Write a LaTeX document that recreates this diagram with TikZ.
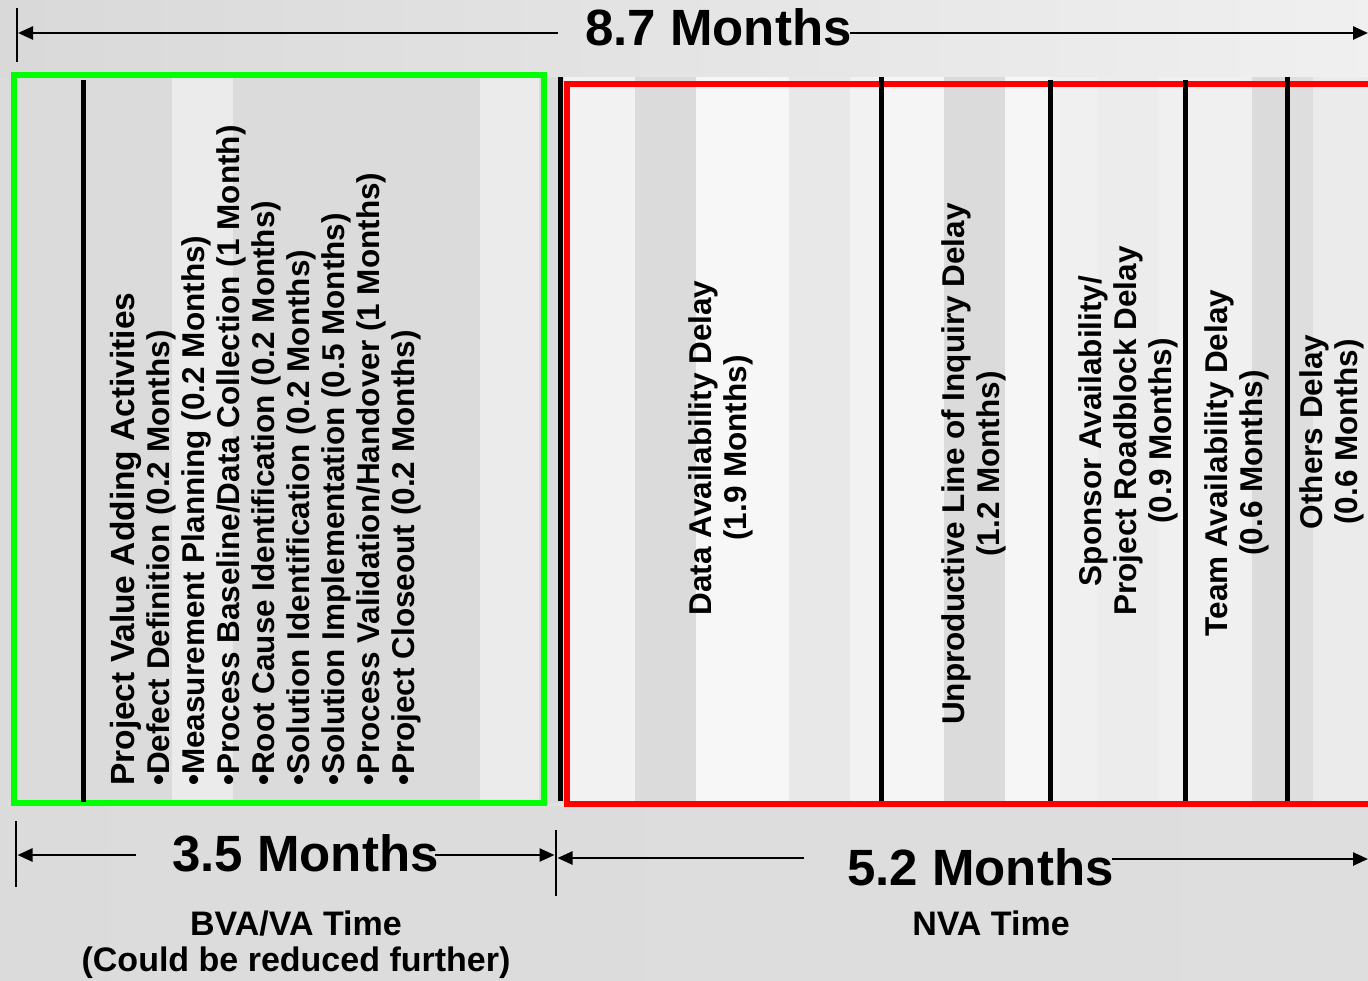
\documentclass[tikz,border=0pt]{standalone}
\usepackage{fontspec}
\setmainfont{Liberation Sans}
\usetikzlibrary{arrows.meta}
\definecolor{vagreen}{RGB}{0,255,0}
\definecolor{nvared}{RGB}{255,0,0}
\begin{document}
\begin{tikzpicture}[x=1pt,y=-1pt,
  dim/.style={line width=2.5pt,-{Triangle[length=15pt,width=13pt]}},
  tick/.style={line width=2.5pt},
  sepline/.style={line width=5pt},
  biglabel/.style={font=\bfseries\fontsize{51}{56}\selectfont,inner sep=0pt},
  caption/.style={font=\bfseries\fontsize{34}{36}\selectfont,inner sep=0pt,align=center},
  vlabel/.style={font=\bfseries\fontsize{31.5}{35}\selectfont,inner sep=0pt,align=center,rotate=90},
]
\useasboundingbox (0,0) rectangle (1368,980);

% background
\shade[left color=black!14,middle color=black!7,right color=black!8] (0,0) rectangle (1368,980);
\shade[left color=black!15,middle color=black!8,right color=black!6] (0,0) rectangle (1368,77);
\shade[left color=black!14,middle color=black!9,right color=black!13] (0,806) rectangle (1368,980);

% vertical bands behind the time blocks
\foreach \a/\b/\c in {11/81/14,81/172/14,172/233/8,233/480/14,480/539/8,539/564/14,
  564/635/5,635/696/14,696/789/3,789/850/9,850/881/5,881/944/4,944/1005/14,
  1005/1050/3.5,1050/1098/6,1098/1158/7.5,1158/1184/6,1184/1252/6,1252/1286/14,
  1286/1313/13,1313/1368/8}
  \fill[black!\c] (\a,77) rectangle (\b,803);

% value adding and non value adding frames
\draw[line width=6pt,vagreen] (14,75) rectangle (544,803);
\draw[line width=6pt,nvared] (567,84) rectangle (1385,804);

% separators between the blocks
\draw[sepline] (83,80) -- (83,802);
\foreach \x/\t in {560/77,881/77,1050/80,1185/80,1287/77}
  \draw[sepline] (\x,\t) -- (\x,801);

% total duration
\node[biglabel,anchor=base west] (total) at (585,45) {8.7 Months};
\coordinate (totTickA) at (17,8);
\coordinate (totTickB) at (17,62);
\coordinate (totL) at (558,33);
\coordinate (totLtip) at (18,33);
\coordinate (totR) at (850,33);
\coordinate (totRtip) at (1368,33);
\draw[tick] (totTickA) -- (totTickB);
\draw[dim] (totL) -- (totLtip);
\draw[dim] (totR) -- (totRtip);

% value adding activities
\node[font=\bfseries\fontsize{31.5}{35}\selectfont,inner sep=0pt,align=left,rotate=90,anchor=north west] (va) at (110,786)
  {{\fontsize{33.5}{35}\selectfont Project Value Adding Activities}\\
   •Defect Definition (0.2 Months)\\
   •Measurement Planning (0.2 Months)\\
   •Process Baseline/Data Collection (1 Month)\\
   •Root Cause Identification (0.2 Months)\\
   •Solution Identification (0.2 Months)\\
   •Solution Implementation (0.5 Months)\\
   •Process Validation/Handover (1 Months)\\
   •Project Closeout (0.2 Months)};

% non value adding delays
\node[vlabel] (data) at (721,448) {Data Availability Delay\\(1.9 Months)};
\node[vlabel] (inquiry) at (974,464) {Unproductive Line of Inquiry Delay\\(1.2 Months)};
\node[vlabel] (sponsor) at (1128,431) {Sponsor Availability/\\Project Roadblock Delay\\(0.9 Months)};
\node[vlabel] (team) at (1237,463) {Team Availability Delay\\(0.6 Months)};
\node[vlabel] (others) at (1332,432) {Others Delay\\(0.6 Months)};

% split of the duration
\coordinate (vaTickA) at (16,821);
\coordinate (vaTickB) at (16,887);
\coordinate (midTickA) at (556,830);
\coordinate (midTickB) at (556,896);
\draw[tick] (vaTickA) -- (vaTickB);
\draw[tick] (midTickA) -- (midTickB);

\node[biglabel,anchor=base west] (vatime) at (172,871) {3.5 Months};
\coordinate (vaL) at (136,855);
\coordinate (vaLtip) at (17.5,855);
\coordinate (vaR) at (435,855);
\coordinate (vaRtip) at (554.5,855);
\draw[dim] (vaL) -- (vaLtip);
\draw[dim] (vaR) -- (vaRtip);

\node[biglabel,anchor=base west] (nvatime) at (847,885) {5.2 Months};
\coordinate (nvaL) at (804,858);
\coordinate (nvaLtip) at (557.5,858);
\coordinate (nvaR) at (1112,859);
\coordinate (nvaRtip) at (1368,859);
\draw[dim] (nvaL) -- (nvaLtip);
\draw[dim] (nvaR) -- (nvaRtip);

\node[caption,anchor=north] (bva) at (296,911) {BVA/VA Time\\(Could be reduced further)};
\node[caption,anchor=north] (nva) at (991,911) {NVA Time};
\end{tikzpicture}
\end{document}
